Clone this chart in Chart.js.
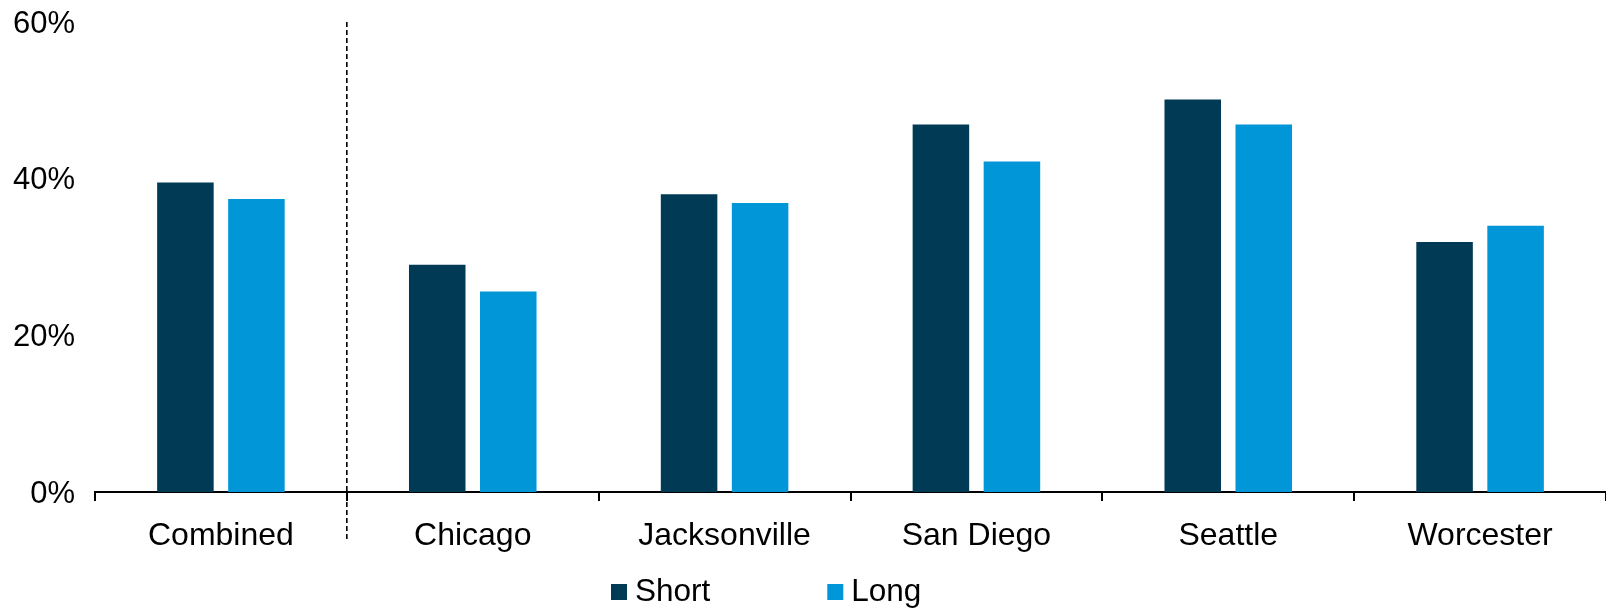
<!DOCTYPE html>
<html>
<head>
<meta charset="utf-8">
<script src="https://cdn.jsdelivr.net/npm/chart.js@4.4.1/dist/chart.umd.min.js"></script>
<style>
  html, body { margin: 0; padding: 0; background: #fff; }
</style>
</head>
<body>
<canvas id="shareChart" width="1606" height="610"></canvas>
<script>
// Share by city, short vs long
const cities = ["Combined", "Chicago", "Jacksonville", "San Diego", "Seattle", "Worcester"];
const shortShare = [39.5, 29.0, 38.0, 46.9, 50.1, 31.9];
const longShare = [37.4, 25.6, 36.9, 42.2, 46.9, 34.0];
const yTicks = [0, 20, 40, 60];

Chart.defaults.font.family = "'Liberation Sans', Arial, sans-serif";
Chart.defaults.font.size = 31;
Chart.defaults.color = "#000";

// dashed separator between "Combined" and the individual cities
const dividerLine = {
  id: "dividerLine",
  afterDraw(chart) {
    const { ctx, chartArea, scales } = chart;
    const x = (scales.x.getPixelForValue(0) + scales.x.getPixelForValue(1)) / 2;
    ctx.save();
    ctx.strokeStyle = "#000";
    ctx.lineWidth = 1.6;
    ctx.setLineDash([5, 3]);
    ctx.beginPath();
    ctx.moveTo(x, chartArea.top);
    ctx.lineTo(x, 541);
    ctx.stroke();
    ctx.restore();
  },
};

// simple square-swatch legend under the axis labels
const bottomLegend = {
  id: "bottomLegend",
  afterDraw(chart) {
    const ctx = chart.ctx;
    const y = 592;
    let x = 611;
    ctx.save();
    ctx.font = "31.5px 'Liberation Sans', Arial, sans-serif";
    ctx.textBaseline = "middle";
    chart.data.datasets.forEach((ds) => {
      ctx.fillStyle = ds.backgroundColor;
      ctx.fillRect(x, y - 8, 16, 16);
      ctx.fillStyle = "#000";
      ctx.fillText(ds.label, x + 24, y);
      x += 24 + ctx.measureText(ds.label).width + 117;
    });
    ctx.restore();
  },
};

new Chart(document.getElementById("shareChart"), {
  type: "bar",
  data: {
    labels: cities,
    datasets: [
      {
        label: "Short",
        data: shortShare,
        backgroundColor: "#003a55",
        categoryPercentage: 0.564,
        barPercentage: 0.796,
      },
      {
        label: "Long",
        data: longShare,
        backgroundColor: "#0096d8",
        categoryPercentage: 0.564,
        barPercentage: 0.796,
      },
    ],
  },
  options: {
    responsive: false,
    animation: false,
    layout: {
      padding: { top: 22, left: 0, right: 0, bottom: 0 },
    },
    plugins: {
      legend: { display: false },
      tooltip: { enabled: false },
    },
    scales: {
      y: {
        min: 0,
        max: 60,
        afterBuildTicks: (axis) => {
          axis.ticks = yTicks.map((v) => ({ value: v }));
        },
        afterFit: (axis) => {
          axis.width = 95;
          axis.paddingTop = 0;
          axis.paddingBottom = 0;
        },
        grid: { display: false, drawTicks: false },
        border: { display: false },
        ticks: {
          padding: 20,
          labelOffset: 2,
          callback: (v) => v + "%",
        },
      },
      x: {
        afterFit: (axis) => {
          axis.height = 118;
        },
        grid: {
          drawOnChartArea: false,
          drawTicks: true,
          tickLength: 9,
          color: "#000",
          lineWidth: 2,
        },
        border: { display: true, color: "#000", width: 2 },
        ticks: {
          padding: 16,
          font: { size: 32 },
        },
      },
    },
  },
  plugins: [dividerLine, bottomLegend],
});
</script>
</body>
</html>
